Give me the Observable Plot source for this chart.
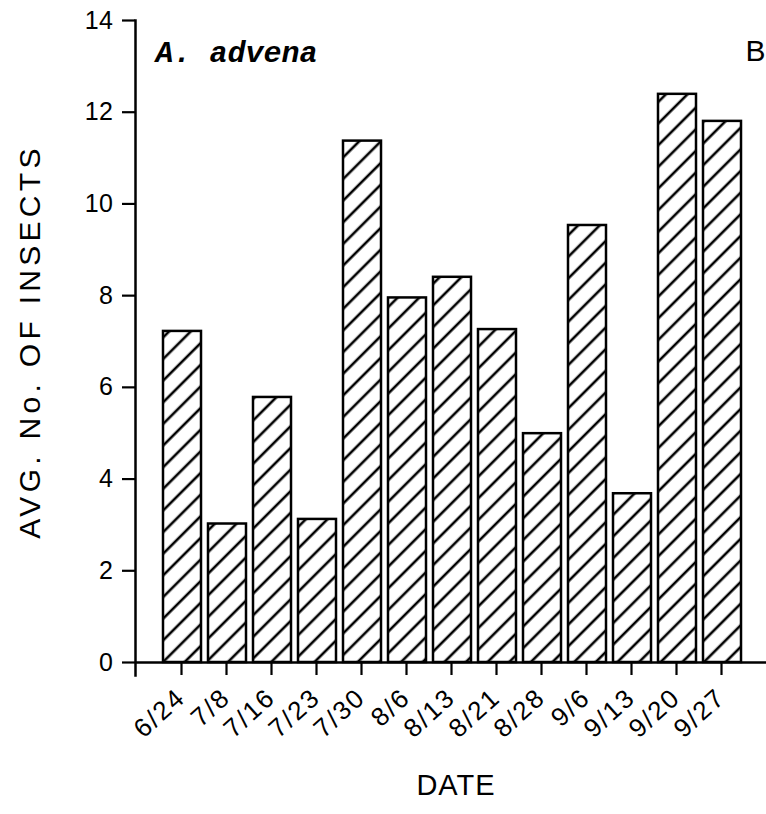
<!DOCTYPE html>
<html>
<head>
<meta charset="utf-8">
<script src="https://cdn.jsdelivr.net/npm/d3@7"></script>
<script src="https://cdn.jsdelivr.net/npm/@observablehq/plot@0.6"></script>
<style>
  html, body { margin: 0; padding: 0; background: #fff; }
  svg { display: block; }
</style>
</head>
<body>
<div id="chart"></div>
<script>
const dates = ["6/24", "7/8", "7/16", "7/23", "7/30", "8/6", "8/13", "8/21", "8/28", "9/6", "9/13", "9/20", "9/27"];
const avgInsects = [7.22, 3.02, 5.78, 3.12, 11.37, 7.95, 8.40, 7.26, 4.99, 9.53, 3.68, 12.39, 11.80];
const yTicks = [0, 2, 4, 6, 8, 10, 12, 14];
const speciesLabel = "A. advena";
const panelLabel = "B";
const xLabel = "DATE";
const yLabel = "AVG. No. OF INSECTS";

const data = dates.map((d, i) => ({date: d, value: avgInsects[i]}));

const chart = Plot.plot({
  width: 766,
  height: 814,
  marginLeft: 135,
  marginRight: 0,
  marginTop: 20,
  marginBottom: 152,
  style: {fontFamily: "'Liberation Sans', Arial, sans-serif", fontSize: "23px", background: "#fff", color: "#000"},
  x: {type: "band", domain: dates, range: [157.7, 747], paddingInner: 0.16, paddingOuter: 0.08},
  y: {domain: [0, 14]},
  marks: [
    Plot.barY(data, {x: "date", y: "value", fill: "url(#hatch)", stroke: "#000", strokeWidth: 2.5}),
    Plot.ruleY([0], {stroke: "#000", strokeWidth: 2.5}),
    Plot.frame({anchor: "left", stroke: "#000", strokeWidth: 2.5, insetBottom: -13}),
    Plot.axisY({ticks: yTicks, tickSize: 13, tickPadding: 9, fontSize: 25, label: null, strokeWidth: 2.2}),
    Plot.axisX({tickSize: 13, tickPadding: 18, tickRotate: -42, fontSize: 26, label: null, strokeWidth: 2.2, dx: -1}),
    Plot.text([speciesLabel], {frameAnchor: "top-left", textAnchor: "start", lineAnchor: "middle", dx: 20, dy: 32,
      fontFamily: "'Liberation Mono', 'Courier New', monospace", fontWeight: "bold", fontStyle: "italic", fontSize: 30}),
    Plot.text([panelLabel], {frameAnchor: "top-right", textAnchor: "end", lineAnchor: "middle", dx: -1, dy: 31, fontSize: 30}),
    Plot.text([xLabel], {frameAnchor: "bottom", textAnchor: "middle", lineAnchor: "middle", dx: 5, dy: 123, fontSize: 29}),
    Plot.text([yLabel], {frameAnchor: "left", textAnchor: "middle", lineAnchor: "middle", dx: -105, rotate: -90, fontSize: 30})
  ]
});

const svg = d3.select(chart);
const defs = svg.insert("defs", ":first-child");
const pat = defs.append("pattern")
  .attr("id", "hatch")
  .attr("patternUnits", "userSpaceOnUse")
  .attr("width", 15.3)
  .attr("height", 15.3)
  .attr("patternTransform", "rotate(45)");
pat.append("rect").attr("width", 15.3).attr("height", 15.3).attr("fill", "#fff");
pat.append("line").attr("x1", 2).attr("y1", 0).attr("x2", 2).attr("y2", 15.3)
  .attr("stroke", "#000").attr("stroke-width", 2.6);

// tick label sizes and wide, plotter-like letter spacing
const yTickStrings = yTicks.map(String);
svg.selectAll("text").each(function() {
  const t = this.textContent;
  if (dates.includes(t)) {
    this.setAttribute("font-size", "26");
    this.setAttribute("letter-spacing", "2px");
  } else if (yTickStrings.includes(t)) {
    this.setAttribute("font-size", "25");
    this.setAttribute("letter-spacing", "0.5px");
  } else if (t === yLabel) {
    this.setAttribute("letter-spacing", "4.3px");
  } else if (t === xLabel) {
    this.setAttribute("letter-spacing", "1px");
  }
});

document.getElementById("chart").appendChild(chart);
</script>
</body>
</html>
